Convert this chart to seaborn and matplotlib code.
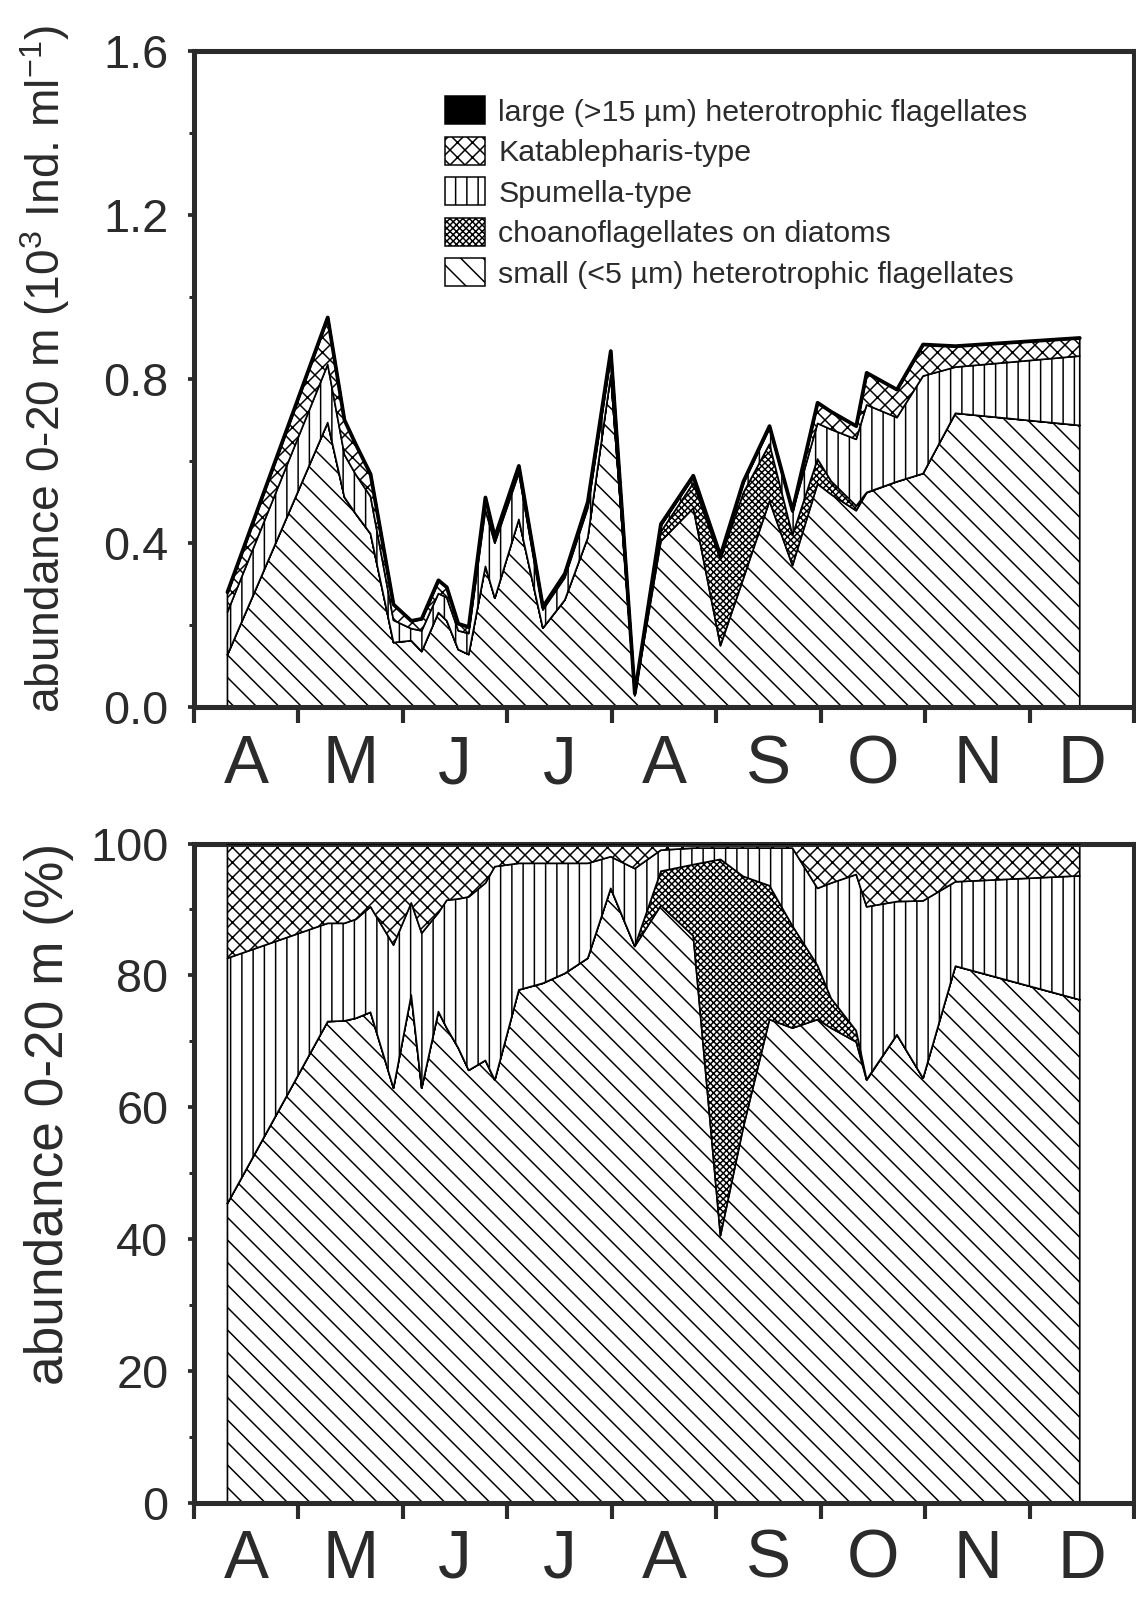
import numpy as np
import pandas as pd
import matplotlib
matplotlib.use("Agg")
import matplotlib.pyplot as plt
import seaborn as sns
from matplotlib.patches import Patch

# ---------------- data ----------------
# sampling dates as fractional month number (4 = 1 April ... 13 = 1 January)
sample_month = [4.32, 5.28, 5.44, 5.55, 5.69, 5.91, 6.08, 6.18, 6.34, 6.42,
                6.53, 6.63, 6.79, 6.88, 7.11, 7.34, 7.55, 7.77, 7.99, 8.22,
                8.47, 8.78, 9.04, 9.26, 9.51, 9.73, 9.97, 10.10, 10.34, 10.44,
                10.73, 10.98, 11.29, 12.48]
# total abundance 0-20 m (10^3 Ind. ml^-1)
total_abundance = [0.28, 0.95, 0.70, 0.64, 0.568, 0.25, 0.21, 0.215, 0.309, 0.292,
                   0.203, 0.195, 0.511, 0.414, 0.588, 0.244, 0.325, 0.50, 0.868, 0.033,
                   0.446, 0.564, 0.369, 0.55, 0.685, 0.479, 0.742, 0.72, 0.685, 0.815,
                   0.774, 0.884, 0.88, 0.90]
# composition (% of total)
pct_small = [45.4, 73.0, 73.1, 73.5, 74.4, 62.9, 77.0, 62.9, 74.5, 72.0,
             69.0, 65.6, 67.1, 64.1, 77.8, 78.8, 80.3, 82.6, 93.2, 84.4,
             90.6, 86.0, 40.5, 57.0, 73.3, 72.0, 73.3, 72.0, 69.9, 64.1,
             71.0, 64.4, 81.4, 76.3]
pct_choano = [0, 0, 0, 0, 0, 0, 0, 0, 0, 0,
              0, 0, 0, 0, 0, 0, 0, 0, 0, 0,
              5.2, 10.8, 57.1, 38.0, 20.3, 15.5, 8.2, 4.5, 1.7, 0.1,
              0, 0, 0, 0]
pct_spumella = [37.2, 14.9, 14.8, 15.0, 16.0, 21.7, 14.0, 23.5, 15.0, 19.4,
                22.6, 26.3, 26.9, 32.4, 19.2, 18.2, 16.7, 14.4, 4.8, 11.8,
                3.2, 2.5, 1.7, 4.3, 5.7, 11.8, 11.7, 17.5, 23.7, 26.2,
                20.2, 26.9, 12.8, 18.8]
pct_katablepharis = [17.4, 12.1, 12.1, 11.5, 9.6, 15.4, 9.0, 13.6, 10.5, 8.6,
                     8.4, 8.1, 5.7, 3.2, 2.7, 2.7, 2.7, 2.7, 1.7, 3.5,
                     0.7, 0.4, 0.4, 0.4, 0.4, 0.4, 6.8, 6.0, 4.7, 9.6,
                     8.8, 8.7, 5.8, 4.9]
pct_large = [0, 0, 0, 0, 0, 0, 0, 0, 0, 0,
             0, 0, 0.3, 0.3, 0.3, 0.3, 0.3, 0.3, 0.3, 0.3,
             0.3, 0.3, 0.3, 0.3, 0.3, 0.3, 0, 0, 0, 0,
             0, 0, 0, 0]

month_labels = ["A", "M", "J", "J", "A", "S", "O", "N", "D"]
legend_labels = ["large (>15 µm) heterotrophic flagellates",
                 "Katablepharis-type",
                 "Spumella-type",
                 "choanoflagellates on diatoms",
                 "small (<5 µm) heterotrophic flagellates"]

# ---------------- style ----------------
sns.set_theme(style="ticks")
plt.rcParams["font.family"] = ["Liberation Sans", "DejaVu Sans"]
plt.rcParams["mathtext.fontset"] = "custom"
plt.rcParams["mathtext.rm"] = "Liberation Sans"
plt.rcParams["mathtext.it"] = "Liberation Sans"
plt.rcParams["hatch.linewidth"] = 0.4
plt.rcParams["hatch.color"] = "black"

DPI = 270
fig = plt.figure(figsize=(1136 / DPI, 1597 / DPI), dpi=DPI)
fig.patch.set_facecolor("white")
ax1 = fig.add_axes([0.1708, 0.5573, 0.8275, 0.4108])
ax2 = fig.add_axes([0.1708, 0.0590, 0.8275, 0.4128])

x = np.array(sample_month)
tot = np.array(total_abundance)
layers_pct = [np.array(pct_small), np.array(pct_choano), np.array(pct_spumella),
              np.array(pct_katablepharis), np.array(pct_large)]
hatches = ["\\\\\\\\", "x" * 14, "||||", "x" * 6, None]
faces = ["white", "white", "white", "white", "black"]

EDGE_LW = 0.45


def draw_stack(ax, layers, top_lw):
    base = np.zeros_like(x, dtype=float)
    for vals, h, fc in zip(layers, hatches, faces):
        upper = base + vals
        ax.fill_between(x, base, upper, facecolor=fc, edgecolor="black",
                        hatch=h, linewidth=EDGE_LW, zorder=2)
        base = upper
    df = pd.DataFrame({"month": x, "top": base})
    sns.lineplot(data=df, x="month", y="top", color="black", linewidth=top_lw,
                 ax=ax, legend=False, zorder=3)


abs_layers = [tot * p / 100.0 for p in layers_pct]
draw_stack(ax1, abs_layers, 1.0)
pct_total = sum(layers_pct)
draw_stack(ax2, [p / pct_total * 100.0 for p in layers_pct], EDGE_LW)

# ---------------- axes cosmetics ----------------
SPINE = "#2b2b2b"
for ax in (ax1, ax2):
    ax.set_xlim(4, 13)
    for s in ax.spines.values():
        s.set_linewidth(1.35)
        s.set_color(SPINE)
        s.set_visible(True)
    ax.set_xticks(range(4, 14))
    ax.set_xticks(np.arange(4.5, 13, 1.0), minor=True)
    ax.set_xticklabels([])
    ax.set_xticklabels(month_labels, minor=True)
    ax.tick_params(axis="x", which="major", direction="out", length=4.3,
                   width=1.1, color=SPINE, labelbottom=False)
    ax.tick_params(axis="y", which="major", direction="out", length=1.6,
                   width=1.0, color=SPINE, labelsize=12.5, pad=5.2,
                   labelcolor="#2b2b2b")
    ax.tick_params(axis="y", which="minor", direction="out", length=1.3,
                   width=0.8, color=SPINE)
    ax.set_xlabel("")
    ax.grid(False)
    ax.set_facecolor("white")

ax1.tick_params(axis="x", which="minor", length=0, labelsize=18, pad=7.0,
                labelcolor="#2b2b2b")
ax2.tick_params(axis="x", which="minor", length=0, labelsize=18, pad=6.6,
                labelcolor="#2b2b2b")

ax1.set_ylim(0, 1.6)
ax1.set_yticks([0.0, 0.4, 0.8, 1.2, 1.6])
ax1.set_yticklabels(["0.0", "0.4", "0.8", "1.2", "1.6"])
ax1.set_yticks(np.arange(0, 1.61, 0.2), minor=True)
ax1.set_ylabel(r"abundance 0-20 m (10$^3$ Ind. ml$^{-1}$)", fontsize=12.3,
               color="#2b2b2b")
ax1.yaxis.set_label_coords(-0.130, 0.515)

ax2.set_ylim(0, 100)
ax2.set_yticks([0, 20, 40, 60, 80, 100])
ax2.set_yticklabels(["0", "20", "40", "60", "80", "100"])
ax2.set_yticks(np.arange(0, 101, 10), minor=True)
ax2.set_ylabel("abundance 0-20 m (%)", fontsize=14.2, color="#2b2b2b")
ax2.yaxis.set_label_coords(-0.128, 0.59)

handles = [Patch(facecolor=fc if fc == "black" else "white", edgecolor="black",
                 hatch=h, linewidth=0.4)
           for h, fc in zip(hatches[::-1], faces[::-1])]
ax1.legend(handles, legend_labels, loc="upper left",
           bbox_to_anchor=(0.267, 0.931), frameon=False, fontsize=8.1,
           handlelength=1.3, handleheight=1.05, handletextpad=0.45,
           labelspacing=0.33, borderpad=0, borderaxespad=0,
           labelcolor="#2b2b2b")

fig.savefig("out.png", dpi=DPI, facecolor="white")
